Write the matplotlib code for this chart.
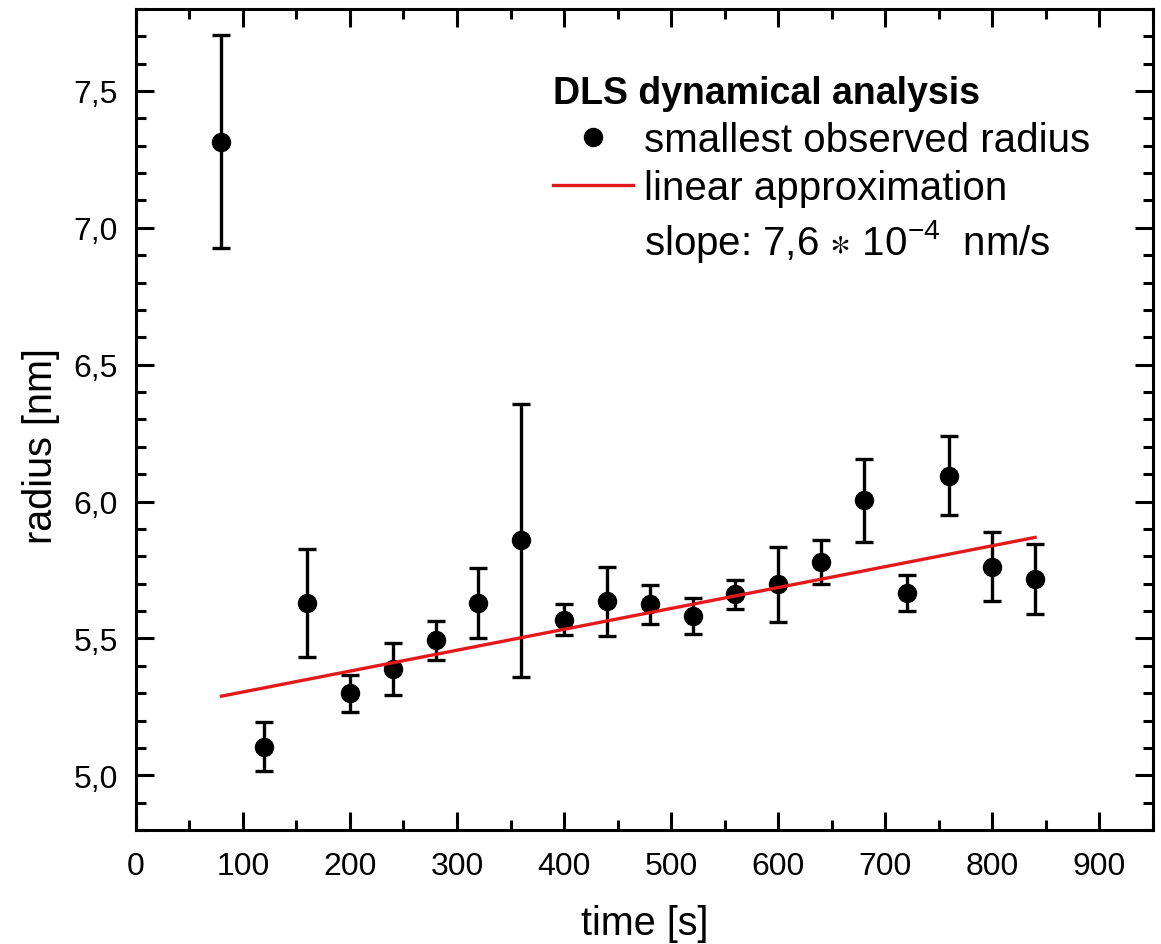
import matplotlib
matplotlib.use("Agg")
import matplotlib.pyplot as plt
from matplotlib.ticker import MultipleLocator, FuncFormatter
from matplotlib.lines import Line2D

plt.rcParams['font.family'] = ['Liberation Sans', 'DejaVu Sans']
plt.rcParams['mathtext.default'] = 'regular'

# measured points: time [s], radius [nm], error
time_s = [80, 120, 160, 200, 240, 280, 320, 360, 400, 440, 480,
          520, 560, 600, 640, 680, 720, 760, 800, 840]
radius = [7.315, 5.105, 5.628, 5.299, 5.389, 5.493, 5.630, 5.858, 5.569, 5.636, 5.624,
          5.582, 5.661, 5.697, 5.778, 6.004, 5.666, 6.095, 5.762, 5.718]
radius_err = [0.39, 0.088, 0.197, 0.067, 0.095, 0.072, 0.128, 0.5, 0.057, 0.126, 0.072,
              0.067, 0.054, 0.136, 0.08, 0.153, 0.065, 0.143, 0.125, 0.128]

# linear approximation end points
fit_x = [80, 840]
fit_y = [5.289, 5.869]

fig = plt.figure(figsize=(11.61, 9.45), dpi=100)
ax = fig.add_axes([0.117, 0.1206, 0.876, 0.869])

ax.errorbar(time_s, radius, yerr=radius_err, fmt='o', color='black',
            markersize=13, elinewidth=2.4, capsize=6.5, capthick=2.4, zorder=3)
ax.plot(fit_x, fit_y, color='#e3191c', linewidth=2.4, zorder=4)

ax.set_xlim(0, 950)
ax.set_ylim(4.8, 7.8)
ax.xaxis.set_major_locator(MultipleLocator(100))
ax.xaxis.set_minor_locator(MultipleLocator(50))
ax.yaxis.set_major_locator(MultipleLocator(0.5))
ax.yaxis.set_minor_locator(MultipleLocator(0.1))
ax.yaxis.set_major_formatter(FuncFormatter(lambda v, p: f"{v:.1f}".replace('.', ',')))

for s in ax.spines.values():
    s.set_linewidth(2.2)
ax.tick_params(which='both', direction='in', top=True, right=True, width=2.2,
               labelsize=23)
ax.tick_params(which='major', length=13)
ax.tick_params(axis='x', which='major', pad=15)
ax.tick_params(axis='y', which='major', pad=13)
ax.tick_params(which='minor', length=7)

ax.set_xlabel('time [s]', fontsize=28.5, labelpad=17)
ax.set_ylabel('radius [nm]', fontsize=28.5, labelpad=10)
ax.yaxis.label.set_y(0.469)

handles = [Line2D([], [], marker='o', color='black', linestyle='none', markersize=13),
           Line2D([], [], color='#e3191c', linewidth=2.4),
           Line2D([], [], linestyle='none')]
labels = ['smallest observed radius', 'linear approximation',
          'slope: 7,6 $\\ast$ 10$^{-4}$  nm/s']
leg = ax.legend(handles, labels, loc='upper left', bbox_to_anchor=(0.394, 0.939),
                frameon=False, fontsize=29, handlelength=2.0, handletextpad=0.28,
                labelspacing=0.25, borderaxespad=0,
                title='DLS dynamical analysis', alignment='left',
                title_fontproperties={'weight': 'bold', 'size': 27})

fig.savefig('out.png', dpi=100)
